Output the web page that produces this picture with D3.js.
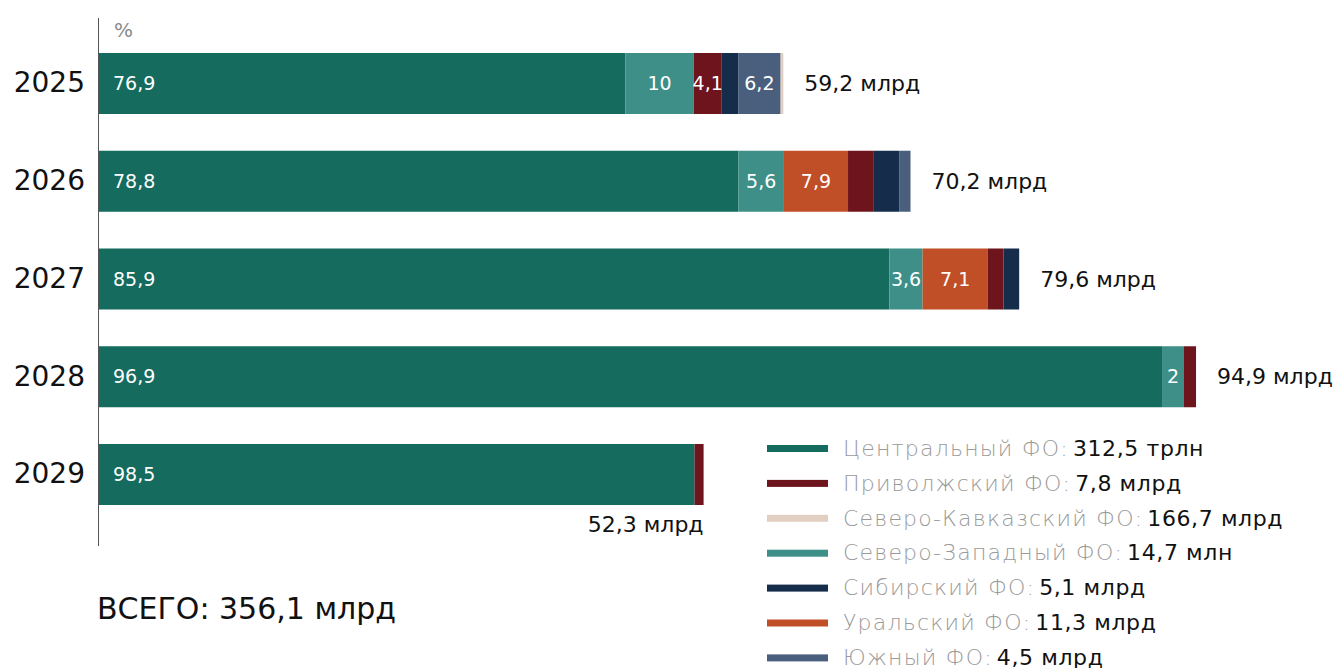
<!DOCTYPE html>
<html>
<head>
<meta charset="utf-8">
<script src="https://cdn.jsdelivr.net/npm/d3@7"></script>
<style>
  body { margin: 0; background: #fff; }
  #chart { width: 1341px; height: 668px; }
  text { font-family: "DejaVu Sans", "Noto Sans", sans-serif; }
</style>
</head>
<body>
<div id="chart"></div>
<script>
// годы и итоговые суммы, млрд
const years = ['2025', '2026', '2027', '2028', '2029'];
const totals = [59.2, 70.2, 79.6, 94.9, 52.3];
const totalLabels = ['59,2 млрд', '70,2 млрд', '79,6 млрд', '94,9 млрд', '52,3 млрд'];

// порядок сегментов в полосе
const districts = ['central', 'nw', 'ural', 'volga', 'siberia', 'south', 'ncauc'];
// доли, % (по годам)
const central = [76.9, 78.8, 85.9, 96.9, 98.5];
const nw      = [10,   5.6,  3.6,  2,    0];
const ural    = [0,    7.9,  7.1,  0,    0];
const volga   = [4.1,  3.1,  1.7,  1.1,  1.5];
const siberia = [2.4,  3.2,  1.7,  0,    0];
const south   = [6.2,  1.4,  0,    0,    0];
const ncauc   = [0.4,  0,    0,    0,    0];
// подписи, которые видны на полосах
const shown = {
  central: [true, true, true, true, true],
  nw:      [true, true, true, true, false],
  ural:    [false, true, true, false, false],
  volga:   [true, false, false, false, false],
  siberia: [false, false, false, false, false],
  south:   [true, false, false, false, false],
  ncauc:   [false, false, false, false, false]
};

// легенда
const legendKeys = ['central', 'volga', 'ncauc', 'nw', 'siberia', 'ural', 'south'];
const legendNames = ['Центральный ФО:', 'Приволжский ФО:', 'Северо-Кавказский ФО:', 'Северо-Западный ФО:',
                     'Сибирский ФО:', 'Уральский ФО:', 'Южный ФО:'];
const legendValues = ['312,5 трлн', '7,8 млрд', '166,7 млрд', '14,7 млн', '5,1 млрд', '11,3 млрд', '4,5 млрд'];
const grandTotal = 'ВСЕГО: 356,1 млрд';

const colorRule = {
  central: '#146b5e',
  nw: '#3d8f87',
  ural: '#c04f27',
  volga: '#6e141c',
  siberia: '#152d4b',
  south: '#4a5f7d',
  ncauc: '#e3cfc1'
};
const series = {central, nw, ural, volga, siberia, south, ncauc};

const width_svg = 1341, height_svg = 668;
const svg = d3.select('#chart').append('svg')
  .attr('width', width_svg)
  .attr('height', height_svg);

const xScale = d3.scaleLinear().domain([0, 100]).range([99, 1255]);
const yScale = d3.scaleBand().domain(years).range([53, 505]).paddingInner(0.376).paddingOuter(0);

// стек: x0/x1 в млрд
const rows = years.map((y, i) => {
  let acc = 0;
  const segs = [];
  districts.forEach(k => {
    const v = series[k][i];
    if (!v) return;
    const w = totals[i] * v / 100;
    segs.push({year: y, key: k, value: v, x0: acc, x1: acc + w, show: shown[k][i]});
    acc += w;
  });
  return {year: y, total: totals[i], label: totalLabels[i], segs};
});

// ось
svg.append('line')
  .attr('x1', 98.5).attr('x2', 98.5)
  .attr('y1', 18).attr('y2', 546)
  .attr('stroke', '#555').attr('stroke-width', 1);
svg.append('text')
  .attr('x', 114).attr('y', 37)
  .attr('font-size', 20).attr('fill', '#8a8a8a')
  .text('%');

const yAxis = g => g.attr('transform', 'translate(85,0)')
  .call(d3.axisLeft(yScale).tickSize(0).tickPadding(0))
  .call(g => g.select('.domain').remove())
  .call(g => g.selectAll('.tick text')
    .attr('font-size', 28)
    .attr('fill', '#111')
    .attr('font-family', '"DejaVu Sans", sans-serif'));
svg.append('g').call(yAxis);

const bars = svg.append('g').selectAll('g')
  .data(rows).enter().append('g');

bars.selectAll('rect')
  .data(d => d.segs).enter().append('rect')
  .attr('x', d => xScale(d.x0))
  .attr('width', d => xScale(d.x1) - xScale(d.x0))
  .attr('y', d => yScale(d.year))
  .attr('height', yScale.bandwidth())
  .attr('fill', d => colorRule[d.key]);

bars.selectAll('text.seg')
  .data(d => d.segs.filter(s => s.show)).enter().append('text')
  .attr('class', 'seg')
  .attr('x', d => d.key === 'central' ? xScale(d.x0) + 14 : (xScale(d.x0) + xScale(d.x1)) / 2)
  .attr('y', d => yScale(d.year) + yScale.bandwidth() / 2)
  .attr('dy', '0.35em')
  .attr('text-anchor', d => d.key === 'central' ? 'start' : 'middle')
  .attr('font-size', 19)
  .attr('fill', '#fff')
  .text(d => String(d.value).replace('.', ','));

bars.append('text')
  .attr('x', d => d.year === '2029' ? xScale(d.total) : xScale(d.total) + 21)
  .attr('y', d => d.year === '2029'
    ? yScale(d.year) + yScale.bandwidth() + 19
    : yScale(d.year) + yScale.bandwidth() / 2)
  .attr('dy', '0.35em')
  .attr('text-anchor', d => d.year === '2029' ? 'end' : 'start')
  .attr('font-size', 22)
  .attr('fill', '#111')
  .text(d => d.label);

svg.append('text')
  .attr('x', 97).attr('y', 619)
  .attr('font-size', 30).attr('fill', '#111')
  .text(grandTotal);

// легенда
const legend = svg.append('g').attr('transform', 'translate(767,448)');
const item = legend.selectAll('g').data(legendKeys).enter().append('g')
  .attr('transform', (d, i) => `translate(0,${i * 34.9})`);
item.append('rect')
  .attr('x', 0).attr('y', -3).attr('width', 61).attr('height', 7)
  .attr('fill', d => colorRule[d]);
const lt = item.append('text')
  .attr('x', 76).attr('y', 0).attr('dy', '0.35em')
  .attr('font-size', 22);
lt.append('tspan')
  .attr('fill', '#9a9a9a').attr('font-weight', 300)
  .attr('letter-spacing', 1.2)
  .text((d, i) => legendNames[i]);
lt.append('tspan')
  .attr('fill', '#111')
  .attr('dx', 4)
  .attr('letter-spacing', 0.6)
  .text((d, i) => legendValues[i]);
</script>
</body>
</html>
